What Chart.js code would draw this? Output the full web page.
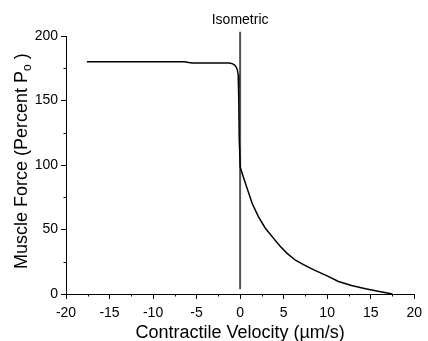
<!DOCTYPE html>
<html>
<head>
<meta charset="utf-8">
<script src="https://cdn.jsdelivr.net/npm/chart.js@4"></script>
<style>
  html, body { margin: 0; padding: 0; background: #fff; }
  #wrap { width: 428px; height: 341px; }
</style>
</head>
<body>
<div id="wrap"><canvas id="grafico" width="428" height="341"></canvas></div>
<script>
// velocidade (um/s) e força (% Po)
const velocidade = [-17.6, -6.4, -5.9, -5.5, -1.2, -0.85, -0.6, -0.42, -0.3, -0.22, -0.17, -0.13, -0.1, 0.02, 0.7, 1.4, 2.1, 2.9, 3.8, 4.6, 5.4, 6.4, 7.5, 8.6, 10, 11.3, 12.8, 14.4, 16, 17.5]
const forca      = [180, 180, 179.4, 179, 179, 178.4, 177.3, 175.6, 173.2, 170, 165, 150, 120, 98, 84, 70, 60, 51, 43.5, 37, 31.5, 26, 22, 18.3, 14, 9.7, 6.6, 4.1, 1.9, 0]

// linha isométrica
const isoX = [0, 0]
const isoY = [3.6, 203.3]

const xTicks = [-20, -15, -10, -5, 0, 5, 10, 15, 20]
const yTicks = [0, 50, 100, 150, 200]
const xMinor = [-17.5, -12.5, -7.5, -2.5, 2.5, 7.5, 12.5, 17.5]
const yMinor = [25, 75, 125, 175]

const fonte = '"Liberation Sans", Arial, sans-serif'

const pontos = velocidade.map((v, i) => ({ x: v, y: forca[i] }))
const iso = isoX.map((v, i) => ({ x: v, y: isoY[i] }))

// ticks menores e textos dos eixos
const extras = {
    id: 'extras',
    afterDraw(chart) {
        const ctx = chart.ctx
        const sx = chart.scales.x
        const sy = chart.scales.y
        ctx.save()
        ctx.strokeStyle = '#000'
        ctx.lineWidth = 1
        ctx.beginPath()
        xMinor.forEach(v => {
            const px = Math.round(sx.getPixelForValue(v)) + 0.5
            ctx.moveTo(px, sy.bottom)
            ctx.lineTo(px, sy.bottom + 2.5)
        })
        yMinor.forEach(v => {
            const py = Math.round(sy.getPixelForValue(v)) + 0.5
            ctx.moveTo(sx.left, py)
            ctx.lineTo(sx.left - 2.5, py)
        })
        ctx.stroke()

        ctx.fillStyle = '#000'
        // Isometric
        ctx.font = '14px ' + fonte
        ctx.textAlign = 'center'
        ctx.textBaseline = 'alphabetic'
        ctx.fillText('Isometric', sx.getPixelForValue(0), 24)

        // titulo eixo x
        ctx.font = '18px ' + fonte
        ctx.fillText('Contractile Velocity (\u00b5m/s)', (sx.left + sx.right) / 2, 338)

        // titulo eixo y com subscrito
        ctx.translate(27, 269)
        ctx.rotate(-Math.PI / 2)
        ctx.textAlign = 'left'
        let x = 0
        const p1 = 'Muscle Force (Percent P'
        ctx.font = '18px ' + fonte
        ctx.fillText(p1, x, 0)
        x += ctx.measureText(p1).width
        ctx.font = '12px ' + fonte
        ctx.fillText('o', x, 4)
        x += ctx.measureText('o').width
        ctx.font = '18px ' + fonte
        ctx.fillText(' )', x, 0)
        ctx.restore()
    }
}

new Chart(document.getElementById('grafico'), {
    type: 'scatter',
    data: {
        datasets: [
            {
                data: pontos,
                showLine: true,
                borderColor: '#000',
                borderWidth: 1.5,
                pointRadius: 0,
                tension: 0
            },
            {
                data: iso,
                showLine: true,
                borderColor: '#555',
                borderWidth: 2,
                pointRadius: 0,
                clip: false
            }
        ]
    },
    options: {
        responsive: false,
        animation: false,
        events: [],
        layout: { padding: { top: 36, right: 10, left: 0, bottom: 0 } },
        plugins: { legend: { display: false }, tooltip: { enabled: false } },
        scales: {
            x: {
                type: 'linear',
                min: -20,
                max: 20,
                afterBuildTicks: (s) => { s.ticks = xTicks.map(v => ({ value: v })) },
                afterFit: (s) => { s.height = 47 },
                grid: { drawOnChartArea: false, tickLength: 5, color: '#000' },
                border: { display: true, color: '#000', width: 1 },
                ticks: { color: '#000', font: { family: fonte, size: 14 }, padding: 6, maxRotation: 0 }
            },
            y: {
                type: 'linear',
                min: 0,
                max: 200,
                afterBuildTicks: (s) => { s.ticks = yTicks.map(v => ({ value: v })) },
                afterFit: (s) => { s.width = 66 },
                grid: { drawOnChartArea: false, tickLength: 5, color: '#000' },
                border: { display: true, color: '#000', width: 1 },
                ticks: { color: '#000', font: { family: fonte, size: 14 }, padding: 3 }
            }
        }
    },
    plugins: [extras]
})
</script>
</body>
</html>
